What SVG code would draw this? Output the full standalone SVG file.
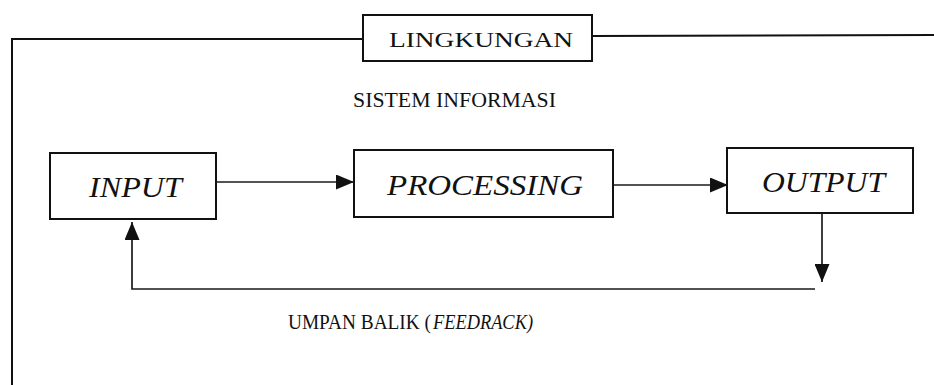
<svg xmlns="http://www.w3.org/2000/svg" width="934" height="385" viewBox="0 0 934 385">
  <style>
    .box { fill: #ffffff; stroke: #111111; stroke-width: 2; }
    .frame { fill: none; stroke: #111111; stroke-width: 2; }
    .wire { fill: none; stroke: #1a1a1a; stroke-width: 1.7; }
    .t { font-family: "Liberation Serif", "Times New Roman", serif; fill: #111111; }
    .it { font-style: italic; }
  </style>
  <defs>
    <marker id="head" viewBox="0 0 10 10" refX="10" refY="5" markerWidth="18" markerHeight="15" markerUnits="userSpaceOnUse" orient="auto" preserveAspectRatio="none">
      <path d="M0,0 L10,5 L0,10 Z" fill="#111111"/>
    </marker>
  </defs>

  <!-- environment frame -->
  <g id="environment">
    <path class="frame" d="M12,385 L12,39 L363,39"/>
    <path class="frame" d="M592,36 L934,35"/>
    <rect class="box" x="363" y="15" width="229" height="46"/>
    <text class="t" x="389" y="47" font-size="22" textLength="184" lengthAdjust="spacingAndGlyphs">LINGKUNGAN</text>
  </g>

  <g id="system-title">
    <text class="t" x="353" y="107" font-size="22" textLength="203" lengthAdjust="spacingAndGlyphs">SISTEM INFORMASI</text>
  </g>

  <g id="input">
    <rect class="box" x="50" y="153" width="166" height="66"/>
    <text class="t it" x="89" y="197" font-size="29" textLength="93" lengthAdjust="spacingAndGlyphs">INPUT</text>
  </g>

  <g id="processing">
    <rect class="box" x="354" y="150" width="259" height="67"/>
    <text class="t it" x="387" y="195" font-size="29" textLength="196" lengthAdjust="spacingAndGlyphs">PROCESSING</text>
  </g>

  <g id="output">
    <rect class="box" x="727" y="148" width="186" height="65"/>
    <text class="t it" x="762" y="192" font-size="29" textLength="123" lengthAdjust="spacingAndGlyphs">OUTPUT</text>
  </g>

  <!-- flow connectors -->
  <g id="connectors">
    <path class="wire" d="M216,182 L354,182" marker-end="url(#head)"/>
    <path class="wire" d="M613,185 L728,185" marker-end="url(#head)"/>
    <path class="wire" d="M822,213 L822,282" marker-end="url(#head)"/>
    <path class="wire" d="M815,289 L132,289 L132,222" marker-end="url(#head)"/>
  </g>

  <g id="feedback-label">
    <text class="t" x="288" y="329" font-size="21" textLength="143" lengthAdjust="spacingAndGlyphs">UMPAN BALIK (</text>
    <text class="t it" x="433" y="329" font-size="21" textLength="100" lengthAdjust="spacingAndGlyphs">FEEDRACK)</text>
  </g>
</svg>
